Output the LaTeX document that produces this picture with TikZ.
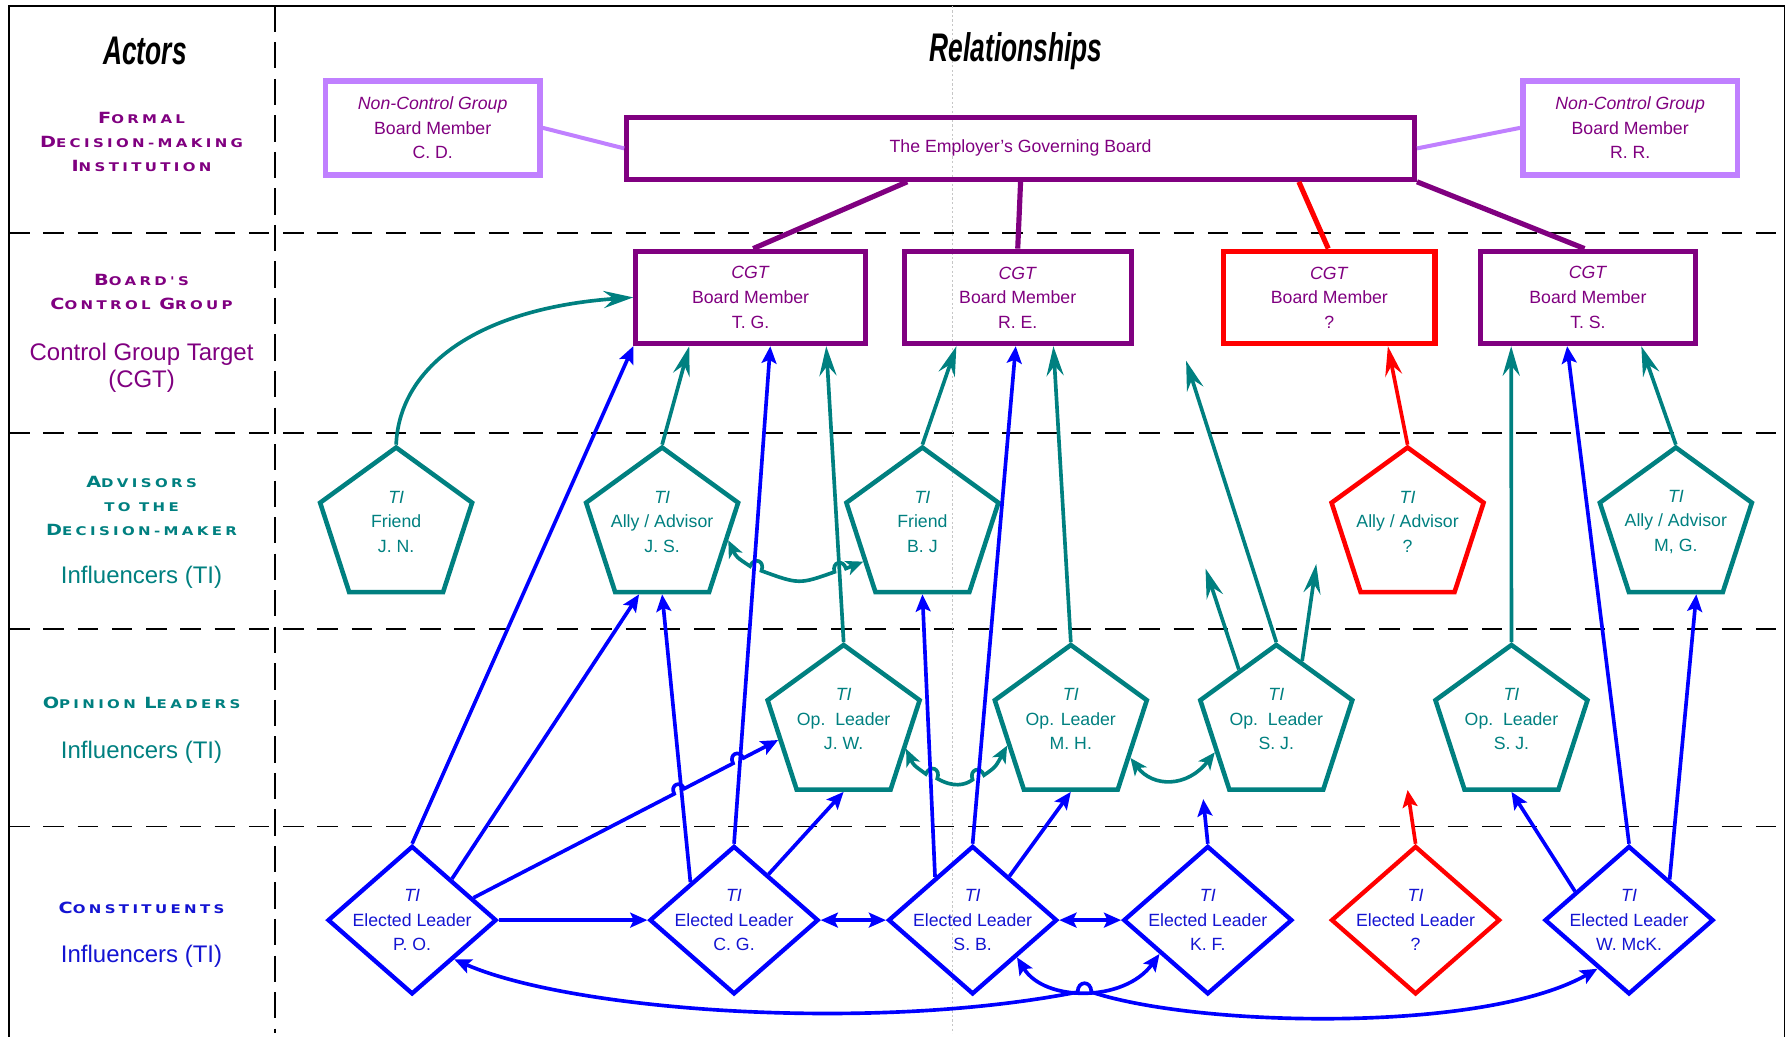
\documentclass[tikz,border=0pt]{standalone}
\usepackage{fontspec}
\setmainfont{Liberation Sans}
\newfontfamily\capfont{DejaVu Sans}[FakeStretch=1.25,LetterSpace=28]
\newfontfamily\headfont{Liberation Sans}[FakeStretch=0.66]
\usetikzlibrary{shapes.geometric,arrows.meta,calc}

\definecolor{brdpurple}{RGB}{128,0,128}
\definecolor{ncglilac}{RGB}{192,128,255}
\definecolor{tealc}{RGB}{0,128,128}
\definecolor{bluec}{RGB}{0,0,255}
\definecolor{bluetxt}{RGB}{20,20,210}
\definecolor{redc}{RGB}{255,0,0}

\newcommand{\tri}[3]{\textit{#1}\\#2\\#3}
\newcommand{\sct}[2]{{\fontsize{13.5}{21}\selectfont #1}{\fontsize{10.5}{21}\selectfont #2}}

\tikzstyle{rowline} = [line width=1.6pt, dash pattern=on 18pt off 12pt]
\tikzstyle{colline} = [line width=1.2pt, dash pattern=on 23pt off 9pt]
\tikzstyle{guide} = [gray!45, line width=0.8pt, dash pattern=on 2pt off 2pt]
\tikzstyle{head} = [font=\headfont\bfseries\itshape\fontsize{35}{35}\selectfont]
\tikzstyle{capt} = [align=center, font=\capfont\bfseries\fontsize{10.5}{21}\selectfont]
\tikzstyle{sidetxt} = [align=center, font=\fontsize{21}{24}\selectfont]
\tikzstyle{boxtxt} = [align=center, font=\fontsize{15.5}{21.5}\selectfont]
\tikzstyle{ncgbox} = [boxtxt, draw=ncglilac, text=brdpurple, line width=5pt, minimum width=188pt, minimum height=82pt, inner sep=0pt]
\tikzstyle{boardbox} = [boxtxt, draw=brdpurple, text=brdpurple, line width=4.5pt, minimum width=690pt, minimum height=54pt]
\tikzstyle{cgtbox} = [boxtxt, draw=brdpurple, text=brdpurple, line width=4.5pt, minimum height=81pt, inner sep=0pt]
\tikzstyle{penta} = [regular polygon, regular polygon sides=5, minimum size=140pt, draw=tealc, line width=4pt, inner sep=0pt]
\tikzstyle{pentatxt} = [boxtxt, text=tealc]
\tikzstyle{elect} = [diamond, minimum width=148pt, minimum height=130pt, draw=bluec, line width=3.8pt, inner sep=0pt]
\tikzstyle{electtxt} = [boxtxt, text=bluetxt]
\tikzstyle{ncgline} = [ncglilac, line width=3.5pt]
\tikzstyle{brdline} = [brdpurple, line width=4.5pt]
\tikzstyle{tealarr} = [tealc, line width=3.2pt, -{Stealth[length=26pt,width=15pt,inset=9pt]}]
\tikzstyle{curly} = [tealc, line width=3.2pt, {Stealth[length=15pt,width=13pt,inset=4pt]}-{Stealth[length=15pt,width=13pt,inset=4pt]}]
\tikzstyle{bluearr} = [bluec, line width=3.2pt, -{Stealth[length=15pt,width=13pt,inset=3pt]}]
\tikzstyle{bluebi} = [bluec, line width=3.2pt, {Stealth[length=15pt,width=13pt,inset=3pt]}-{Stealth[length=15pt,width=13pt,inset=3pt]}]
\tikzstyle{hopover} = [bend left=90, looseness=2.2]

\begin{document}
\begin{tikzpicture}[x=1pt,y=-1pt]
\useasboundingbox (0,0) rectangle (1568,908);
% frame and rows
\draw[line width=1.4pt] (8,908) -- (8,5) -- (1563,5) -- (1563,908);
\draw[rowline] (8,204) -- (1563,204);
\draw[rowline] (8,379) -- (1563,379);
\draw[rowline] (8,551) -- (1563,551);
\draw[rowline] (8,724) -- (1563,724);
\draw[colline] (241,5) -- (241,905);
\draw[guide] (834,5) -- (834,905);

% headings
\node[head] (actors) at (127,45) {Actors};
\node[head] (rel) at (890,45) {Relationships};

% actors column
\node[capt, text=brdpurple] (lformal) at (124,124) {\sct{F}{ORMAL}\\\sct{D}{ECISION-MAKING}\\\sct{I}{NSTITUTION}};
\node[capt, text=brdpurple] (lboard) at (124,256) {\sct{B}{OARD'S}\\\sct{C}{ONTROL} \sct{G}{ROUP}};
\node[sidetxt, text=brdpurple] (lcgt) at (124,322) {Control Group Target\\(CGT)};
\node[capt, text=tealc] (ladv) at (124,443) {\sct{A}{DVISORS}\\\sct{}{TO THE}\\\sct{D}{ECISION-MAKER}};
\node[sidetxt, text=tealc] (linfa) at (124,506) {Influencers (TI)};
\node[capt, text=tealc] (lop) at (124,616) {\sct{O}{PINION} \sct{L}{EADERS}};
\node[sidetxt, text=tealc] (linfb) at (124,659) {Influencers (TI)};
\node[capt, text=bluetxt] (lcon) at (124,795) {\sct{C}{ONSTITUENTS}};
\node[sidetxt, text=bluetxt] (linfc) at (124,838) {Influencers (TI)};

% institution
\node[ncgbox] (cd) at (379,112) {\tri{Non-Control Group}{Board Member}{C. D.}};
\node[ncgbox] (rr) at (1428,112) {\tri{Non-Control Group}{Board Member}{R. R.}};
\node[boardbox] (board) at (894,130) {The Employer's Governing Board};

% control group targets
\node[cgtbox, minimum width=201pt] (tg) at (657.5,260.5) {\tri{CGT}{Board Member}{T. G.}};
\node[cgtbox, minimum width=199pt] (re) at (891.5,260.5) {\tri{CGT}{Board Member}{R. E.}};
\node[cgtbox, draw=redc, minimum width=185pt] (qc) at (1164.5,260.5) {\tri{CGT}{Board Member}{?}};
\node[cgtbox, minimum width=188pt] (ts) at (1391,260.5) {\tri{CGT}{Board Member}{T. S.}};

% advisors
\node[penta] (jn) at (347,462) {};
\node[penta] (js) at (580,462) {};
\node[penta] (bj) at (808,462) {};
\node[penta, draw=redc] (qa) at (1233,462) {};
\node[penta] (mg) at (1468,462) {};
\node[pentatxt] (jnt) at ([yshift=5pt]jn.center) {\tri{TI}{Friend}{J. N.}};
\node[pentatxt] (jst) at ([yshift=5pt]js.center) {\tri{TI}{Ally / Advisor}{J. S.}};
\node[pentatxt] (bjt) at ([yshift=5pt]bj.center) {\tri{TI}{Friend}{B. J}};
\node[pentatxt] (qat) at ([yshift=5pt]qa.center) {\tri{TI}{Ally / Advisor}{?}};
\node[pentatxt] (mgt) at ([yshift=5pt]mg.center) {\tri{TI}{Ally / Advisor}{M, G.}};

% opinion leaders
\node[penta] (jw) at (739,635) {};
\node[penta] (mh) at (938,635) {};
\node[penta] (sj) at (1118,635) {};
\node[penta] (sjb) at (1324,635) {};
\node[pentatxt] (jwt) at ([yshift=5pt]jw.center) {\tri{TI}{Op.\ \ Leader}{J. W.}};
\node[pentatxt] (mht) at ([yshift=5pt]mh.center) {\tri{TI}{Op. Leader}{M. H.}};
\node[pentatxt] (sjt) at ([yshift=5pt]sj.center) {\tri{TI}{Op.\ \ Leader}{S. J.}};
\node[pentatxt] (sjbt) at ([yshift=5pt]sjb.center) {\tri{TI}{Op.\ \ Leader}{S. J.}};

% constituents
\node[elect] (po) at (361,806) {};
\node[elect] (cg) at (643,806) {};
\node[elect] (sb) at (852,806) {};
\node[elect] (kf) at (1058,806) {};
\node[elect, draw=redc] (qe) at (1240,806) {};
\node[elect] (wm) at (1427,806) {};
\node[electtxt] (pot) at (po) {\tri{TI}{Elected Leader}{P. O.}};
\node[electtxt] (cgt) at (cg) {\tri{TI}{Elected Leader}{C. G.}};
\node[electtxt] (sbt) at (sb) {\tri{TI}{Elected Leader}{S. B.}};
\node[electtxt] (kft) at (kf) {\tri{TI}{Elected Leader}{K. F.}};
\node[electtxt] (qet) at (qe) {\tri{TI}{Elected Leader}{?}};
\node[electtxt] (wmt) at (wm) {\tri{TI}{Elected Leader}{W. McK.}};

% free arrow ends
\coordinate (sjtop) at (1039,316);
\coordinate (sjleft) at (1056,498);
\coordinate (sjright) at (1153,494);
\coordinate (kftip) at (1054,700);
\coordinate (qetip) at (1233,692);

% board links
\draw[ncgline] (cd.east) -- (board.west);
\draw[ncgline] (board.east) -- (rr.west);
\draw[brdline] ([xshift=248pt]board.south west) -- ([xshift=105pt]tg.north west);
\draw[brdline] (board.south) -- (re.north);
\draw[brdline, redc] ([xshift=591pt]board.south west) -- ([xshift=-1pt]qc.north);
\draw[brdline] (board.south east) -- ([xshift=-3pt]ts.north);

% influencers to targets
\draw[tealarr] (jn.corner 1) .. controls (350,320) and (420,270) .. (tg.west);
\draw[tealarr] (js.corner 1) -- ([xshift=49pt]tg.south west);
\draw[tealarr] (jw.corner 1) -- ([xshift=169pt]tg.south west);
\draw[tealarr] (bj.corner 1) -- ([xshift=48pt]re.south west);
\draw[tealarr] (mh.corner 1) -- ([xshift=133pt]re.south west);
\draw[tealarr] (sj.corner 1) -- (sjtop);
\draw[tealarr] (sj.124) -- (sjleft);
\draw[tealarr] (sj.68) -- (sjright);
\draw[tealarr, redc] (qa.corner 1) -- ([xshift=146pt]qc.south west);
\draw[tealarr] (sjb.corner 1) -- ([xshift=29pt]ts.south west);
\draw[tealarr] (mg.corner 1) -- ([xshift=143pt]ts.south west);
\draw[curly] (js.-11) .. controls (645,488) .. (657,496) to[hopover] (667,500)
  .. controls (700,512) .. (731,501) to[hopover] (741,498) -- (bj.210);
\draw[curly] (jw.-21) .. controls (800,670) .. (811,678) to[hopover] (821,682)
  .. controls (835,690) and (845,688) .. (852,683) to[hopover] (862,679) .. controls (872,672) .. (mh.198);
\draw[curly] (mh.-29) .. controls (1010,690) and (1040,690) .. (sj.204);

% constituents
\draw[bluearr] (po.north) -- (tg.south west);
\draw[bluearr] (po.46) -- (js.251);
\draw[bluearr] (po.20) -- ($(po.20)!0.659!(jw.193)$) to[hopover] ($(po.20)!0.692!(jw.193)$)
  -- ($(po.20)!0.852!(jw.193)$) to[hopover] ($(po.20)!0.886!(jw.193)$) -- (jw.193);
\draw[bluearr] (po.east) -- (cg.west);
\draw[bluebi] (po.-43) .. controls (500,885) and (760,905) .. (944,869) to[hopover] (956,869)
  .. controls (1050,900) and (1300,905) .. (wm.237);
\draw[bluearr] (cg.139) -- (js.270);
\draw[bluearr] (cg.north) -- ([xshift=120pt]tg.south west);
\draw[bluearr] (cg.53) -- (jw.270);
\draw[bluebi] (cg.east) -- (sb.west);
\draw[bluearr] (sb.131) -- (bj.270);
\draw[bluearr] (sb.north) -- ([xshift=100pt]re.south west);
\draw[bluearr] (sb.50) -- (mh.270);
\draw[bluebi] (sb.east) -- (kf.west);
\draw[bluebi] (sb.-40) .. controls (915,878) and (985,878) .. (kf.215);
\draw[bluearr] (kf.north) -- (kftip);
\draw[bluearr, redc] (qe.north) -- (qetip);
\draw[bluearr] (wm.152) -- (sjb.270);
\draw[bluearr] (wm.north) -- ([xshift=78pt]ts.south west);
\draw[bluearr] (wm.45) -- (mg.287);
\end{tikzpicture}
\end{document}
